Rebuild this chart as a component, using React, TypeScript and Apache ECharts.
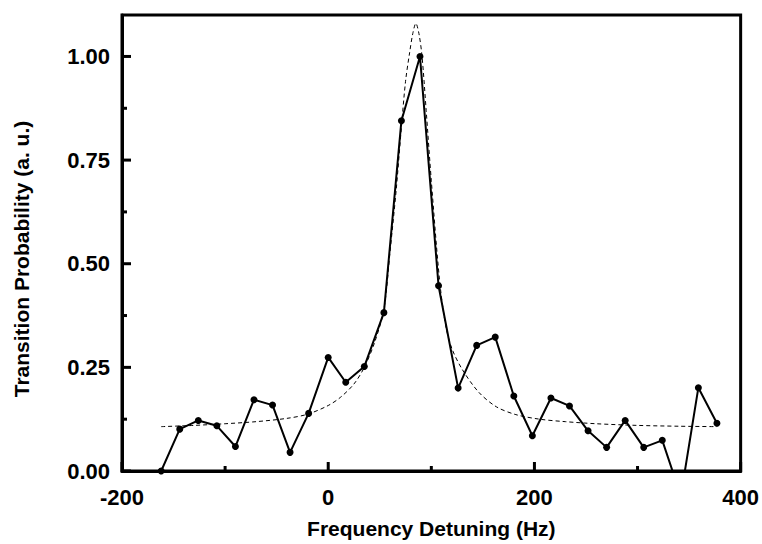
import React, { useEffect, useRef } from "react";
import * as echarts from "echarts";

const detuning = [-162, -144, -126, -108, -90, -72, -54, -37, -19, 0, 17, 35, 54, 71, 89, 107, 126, 144, 162, 180, 198, 216, 234, 252, 270, 288, 306, 324, 342, 359, 377];
const probability = [0.0, 0.101, 0.122, 0.109, 0.059, 0.172, 0.159, 0.045, 0.139, 0.274, 0.214, 0.252, 0.382, 0.845, 1.0, 0.447, 0.2, 0.303, 0.323, 0.181, 0.085, 0.176, 0.157, 0.097, 0.057, 0.122, 0.057, 0.074, -0.06, 0.201, 0.115];

const fitX = [-162, -130, -100, -70, -40, -20, 0, 12, 25, 35, 45, 54, 60, 66, 71, 75, 79, 82, 85, 88, 91, 95, 100, 108, 114, 120, 130, 146, 163, 182, 205, 230, 260, 300, 340, 377];
const fitY = [0.107, 0.11, 0.114, 0.119, 0.127, 0.137, 0.158, 0.178, 0.21, 0.25, 0.31, 0.39, 0.53, 0.68, 0.83, 0.94, 1.01, 1.055, 1.08, 1.055, 1.0, 0.87, 0.7, 0.46, 0.35, 0.295, 0.245, 0.19, 0.155, 0.136, 0.125, 0.119, 0.114, 0.11, 0.108, 0.107];

const xMajorTicks = [-200, 0, 200, 400];
const xMinorTicks = [-100, 100, 300];
const yMajorTicks = [0, 0.25, 0.5, 0.75, 1.0];
const yMinorTicks = [0.125, 0.375, 0.625, 0.875];

const X_MIN = -200;
const X_MAX = 400;
const Y_MIN = 0;
const Y_MAX = 1.1;

const FONT = "'Liberation Sans', Arial, sans-serif";
const BLACK = "#000";

function tickSeries(values: number[], vertical: boolean, len: number) {
  return {
    type: "custom",
    silent: true,
    clip: false,
    z: 5,
    data: values.map((v) => (vertical ? [v, Y_MIN] : [X_MIN, v])),
    renderItem: (_params: any, api: any) => {
      const p = api.coord([api.value(0), api.value(1)]);
      return {
        type: "rect",
        shape: vertical
          ? { x: p[0] - 1.5, y: p[1] - len, width: 3, height: len }
          : { x: p[0], y: p[1] - 1.5, width: len, height: 3 },
        style: { fill: BLACK },
      };
    },
  };
}

export default function App() {
  const ref = useRef<HTMLDivElement>(null);
  useEffect(() => {
    document.body.style.margin = "0";
    const chart = echarts.init(ref.current!, null, { renderer: "svg" });
    const lineStyle = { color: BLACK, width: 3 };
    chart.setOption({
      animation: false,
      backgroundColor: "#ffffff",
      grid: { left: 122, right: 20, top: 15, bottom: 72, show: true, borderColor: BLACK, borderWidth: 3, backgroundColor: "transparent" },
      xAxis: {
        type: "value",
        min: X_MIN,
        max: X_MAX,
        interval: 200,
        name: "Frequency Detuning (Hz)",
        nameLocation: "middle",
        nameGap: 47,
        nameTextStyle: { fontFamily: FONT, fontWeight: "bold", fontSize: 21, color: BLACK },
        axisLine: { show: true, onZero: false, lineStyle },
        axisTick: { show: false },
        axisLabel: { margin: 15, fontFamily: FONT, fontWeight: "bold", fontSize: 22, color: BLACK },
        splitLine: { show: false },
      },
      yAxis: {
        type: "value",
        min: Y_MIN,
        max: Y_MAX,
        interval: 0.25,
        axisLine: { show: true, onZero: false, lineStyle },
        axisTick: { show: false },
        axisLabel: {
          margin: 12,
          showMaxLabel: false,
          fontFamily: FONT,
          fontWeight: "bold",
          fontSize: 22,
          color: BLACK,
          formatter: (v: number) => (v > 1.0001 ? "" : v.toFixed(2)),
        },
        splitLine: { show: false },
      },
      graphic: [
        {
          type: "text",
          x: 21,
          y: 259,
          rotation: Math.PI / 2,
          style: {
            text: "Transition Probability (a. u.)",
            fontFamily: FONT,
            fontWeight: "bold",
            fontSize: 21,
            fill: BLACK,
            align: "center",
            verticalAlign: "middle",
          },
        },
      ],
      series: [
        {
          type: "line",
          data: fitX.map((x, i) => [x, fitY[i]]),
          showSymbol: false,
          smooth: 0.3,
          lineStyle: { color: BLACK, width: 1, type: [4, 3] },
          z: 1,
        },
        {
          type: "line",
          data: detuning.map((x, i) => [x, probability[i]]),
          symbol: "circle",
          symbolSize: 7,
          itemStyle: { color: BLACK },
          lineStyle: { color: BLACK, width: 2 },
          clip: true,
          z: 2,
        },
        tickSeries(xMajorTicks, true, 9),
        tickSeries(xMinorTicks, true, 5),
        tickSeries(yMajorTicks, false, 9),
        tickSeries(yMinorTicks, false, 5),
      ],
    });
    return () => chart.dispose();
  }, []);
  return <div ref={ref} style={{ width: 762, height: 544 }} />;
}
